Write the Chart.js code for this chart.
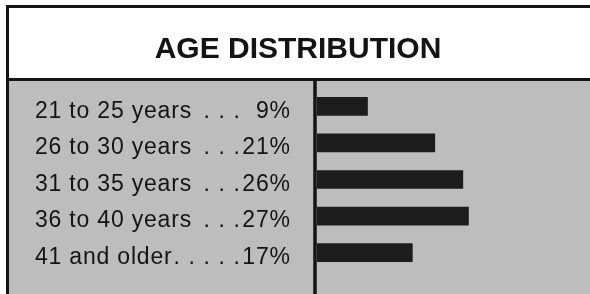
<!DOCTYPE html>
<html>
<head>
<meta charset="utf-8">
<script src="https://cdn.jsdelivr.net/npm/chart.js@4.4.1/dist/chart.umd.min.js"></script>
<style>
  html, body { margin: 0; padding: 0; background: #ffffff; overflow: hidden; }
  #wrap { position: relative; width: 590px; height: 294px; }
</style>
</head>
<body>
<div id="wrap"><canvas id="c"></canvas></div>
<script>
// ---- data ----
const chartTitle = 'AGE DISTRIBUTION';
const categories = ['21 to 25 years', '26 to 30 years', '31 to 35 years', '36 to 40 years', '41 and older'];
const percentValues = [9, 21, 26, 27, 17];

// ---- style ----
const INK = '#141414';
const PAPER_GRAY = '#bdbdbd';
const LABEL_FONT_FAMILY = "'Liberation Sans', Arial, Helvetica, sans-serif";
const LABEL_SIZE = 23;
const LETTER_SPACING = '0.8px';
const LABEL_OFFSET = 5;

const framePlugin = {
  id: 'frame',
  beforeDraw(chart) {
    const ctx = chart.ctx;
    const W = chart.width, H = chart.height;
    const area = chart.chartArea;
    ctx.save();
    ctx.letterSpacing = '0px';
    ctx.fillStyle = '#ffffff';
    ctx.fillRect(0, 0, W, H);
    ctx.fillStyle = PAPER_GRAY;
    ctx.fillRect(9, 81, W - 9, H - 81);
    ctx.strokeStyle = INK;
    ctx.lineWidth = 3;
    ctx.beginPath();
    ctx.moveTo(7.5, H);
    ctx.lineTo(7.5, 6.5);
    ctx.lineTo(W, 6.5);
    ctx.moveTo(7.5, 79.5);
    ctx.lineTo(W, 79.5);
    ctx.stroke();
    ctx.lineWidth = 3.5;
    ctx.beginPath();
    ctx.moveTo(area.left - 2, 79);
    ctx.lineTo(area.left - 2, H);
    ctx.stroke();
    ctx.restore();
  },
  afterDatasetsDraw(chart) {
    chart.ctx.letterSpacing = LETTER_SPACING;
  },
  afterDraw(chart) {
    const ctx = chart.ctx;
    const yScale = chart.scales.y;
    const area = chart.chartArea;
    const valueRight = area.left - 27;
    ctx.save();
    ctx.letterSpacing = LETTER_SPACING;
    ctx.font = `normal ${LABEL_SIZE}px ${LABEL_FONT_FAMILY}`;
    ctx.fillStyle = INK;
    ctx.textBaseline = 'middle';
    percentValues.forEach((v, i) => {
      const py = yScale.getPixelForValue(i) + LABEL_OFFSET;
      ctx.textAlign = 'right';
      ctx.fillText(v + '%', valueRight + 0.8, py);
      const labelEnd = yScale.left + ctx.measureText(categories[i]).width;
      ctx.textAlign = 'center';
      for (let x = valueRight - 53; x > labelEnd + 4; x -= 15) {
        ctx.fillText('.', x, py);
      }
    });
    ctx.restore();
    ctx.letterSpacing = '0px';
  }
};

new Chart(document.getElementById('c'), {
  type: 'bar',
  data: {
    labels: categories,
    datasets: [{
      data: percentValues,
      backgroundColor: '#1c1c1c',
      borderWidth: 0,
      barThickness: 18
    }]
  },
  plugins: [framePlugin],
  options: {
    indexAxis: 'y',
    responsive: true,
    maintainAspectRatio: false,
    devicePixelRatio: 1,
    animation: false,
    layout: { padding: { left: 35, right: 29, top: 0, bottom: 23 } },
    plugins: {
      legend: { display: false },
      tooltip: { enabled: false },
      title: {
        display: true,
        text: chartTitle,
        color: INK,
        font: { family: LABEL_FONT_FAMILY, size: 30, weight: 'bold', lineHeight: 1.2 },
        padding: { top: 32, bottom: 20 }
      }
    },
    scales: {
      x: {
        display: false,
        min: 0,
        max: 43.5
      },
      y: {
        grid: { display: false },
        border: { display: false },
        ticks: {
          z: 1,
          crossAlign: 'far',
          labelOffset: LABEL_OFFSET,
          color: INK,
          font: { family: LABEL_FONT_FAMILY, size: LABEL_SIZE, weight: 'normal' }
        },
        afterFit(scale) { scale.width = 282; }
      }
    }
  }
});
</script>
</body>
</html>
